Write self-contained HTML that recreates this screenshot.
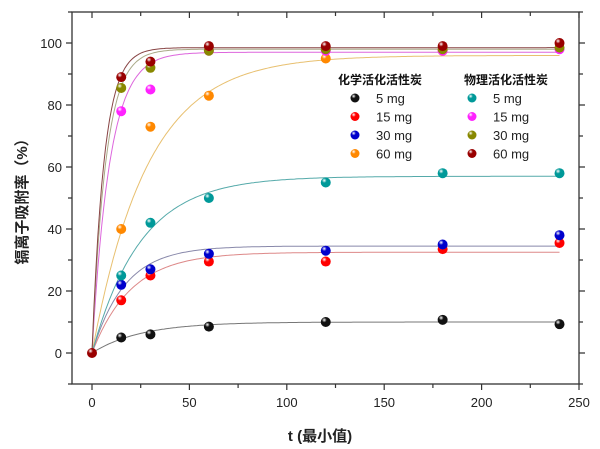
<!DOCTYPE html>
<html><head><meta charset="utf-8"><style>
body{margin:0;background:#fff}
svg{display:block;font-family:"Liberation Sans","Noto Sans CJK SC",sans-serif}
</style></head><body>
<svg id="s" width="600" height="449" viewBox="0 0 600 449" xmlns="http://www.w3.org/2000/svg">
<defs></defs>
<rect x="72" y="12" width="507" height="372" fill="none" stroke="#333" stroke-width="1.3"/>
<g id="ax" font-size="13" fill="#222"></g>
<g id="curves" fill="none" stroke-width="1"></g>
<g id="pts"></g>
<g font-size="12" font-weight="bold" fill="#111">
<text x="380" y="84" text-anchor="middle">化学活化活性炭</text>
<text x="506" y="84" text-anchor="middle">物理活化活性炭</text>
</g>
<g id="leg" font-size="13" fill="#222"></g>
<text x="320" y="441" text-anchor="middle" font-size="15" font-weight="bold" fill="#222">t (最小值)</text>
<text transform="translate(27,198) rotate(-90)" text-anchor="middle" font-size="15" font-weight="bold" fill="#222">镉离子吸附率（%）</text>
</svg>
<script>
const NS="http://www.w3.org/2000/svg";
const X=t=>92+t*1.948, Y=v=>353-v*3.1;
function el(tag,attrs,parent){const e=document.createElementNS(NS,tag);for(const k in attrs)e.setAttribute(k,attrs[k]);if(parent)parent.appendChild(e);return e;}
const ax=document.getElementById('ax'),defs=document.querySelector('defs');
let tk="";
for(let t=0;t<=250;t+=25){const x=X(t),L=t%50==0?6:4;tk+=`M${x} 384v${L}M${x} 12v${L}`;}
for(let v=-10;v<=110;v+=10){const y=Y(v);if(y<12||y>384)continue;const L=v%20==0?6:4;tk+=`M72 ${y}h-${L}M579 ${y}h${L}`;}
el('path',{d:tk,stroke:'#333','stroke-width':1.2},ax);
for(let t=0;t<=250;t+=50){const e=el('text',{x:X(t),y:407,'text-anchor':'middle'},ax);e.textContent=t;}
for(let v=0;v<=100;v+=20){const e=el('text',{x:62,y:Y(v)+5,'text-anchor':'end'},ax);e.textContent=v;}
const series=[
 ['#111','#777',10,0.04,[5,6,8.5,10,10.7,9.3]],
 ['#f00','#d88',32.5,0.05,[17,25,29.5,29.5,33.5,35.5]],
 ['#00c','#88a',34.5,0.06,[22,27,32,33,35,38]],
 ['#f80','#e8c070',96,0.035,[40,73,83,95,97.5,null]],
 ['#099','#5aa',57,0.04,[25,42,50,55,58,58]],
 ['#f2f','#d6d',97,0.11,[78,85,97.5,97.5,97.5,98]],
 ['#880','#aa8',98,0.14,[85.5,92,97.5,98,98,98.5]],
 ['#900','#844',98.5,0.16,[89,94,99,99,99,100]]
];
const ts=[15,30,60,120,180,240];
const cg=document.getElementById('curves'),pg=document.getElementById('pts'),lg=document.getElementById('leg');
const labels=['5 mg','15 mg','30 mg','60 mg'];
series.forEach((s,i)=>{
 const g=el('radialGradient',{id:'g'+i,cx:'0.35',cy:'0.3',r:'0.7'},defs);
 el('stop',{offset:'0','stop-color':'#fff'},g);el('stop',{offset:'0.35','stop-color':s[0]},g);el('stop',{offset:'1','stop-color':s[0]},g);
 let d="";for(let t=0;t<=240;t+=1){d+=(t?'L':'M')+X(t).toFixed(1)+' '+Y(s[2]*(1-Math.exp(-s[3]*t))).toFixed(1);}
 el('path',{d,stroke:s[1]},cg);
});
series.forEach((s,i)=>{
 s[4].forEach((v,j)=>{if(v!=null)el('circle',{cx:X(ts[j]),cy:Y(v),r:5,fill:`url(#g${i})`},pg);});
 const col=i<4?0:1,row=i%4,lx=col?472:355,ly=98+row*18.5;
 el('circle',{cx:lx,cy:ly,r:4.5,fill:`url(#g${i})`},lg);
 const t=el('text',{x:lx+21,y:ly+5},lg);t.textContent=labels[row];
});
el('circle',{cx:X(0),cy:Y(0),r:5,fill:'url(#g7)'},pg);
</script>
</body></html>
